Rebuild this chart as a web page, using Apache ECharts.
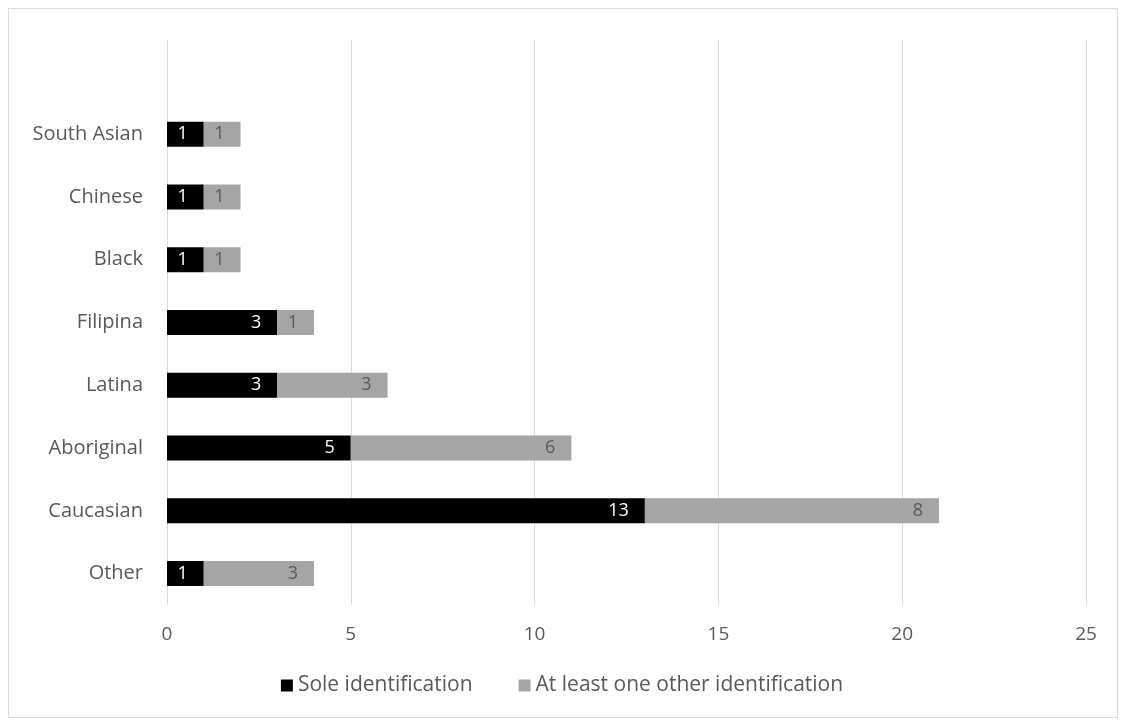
<!DOCTYPE html>
<html>
<head>
<meta charset="utf-8">
<script src="https://cdn.jsdelivr.net/npm/echarts@6/dist/echarts.min.js"></script>
<style>
  html, body { margin: 0; padding: 0; background: #fff; }
  #main { width: 1124px; height: 723px; }
</style>
</head>
<body>
<div id="main"></div>
<script>
// categories bottom -> top (Excel order), the last one is empty
var categories = ['Other', 'Caucasian', 'Aboriginal', 'Latina', 'Filipina', 'Black', 'Chinese', 'South Asian', ''];
var soleValues = [1, 13, 5, 3, 3, 1, 1, 1, null];
var otherValues = [3, 8, 6, 3, 1, 1, 1, 1, null];
var xTicks = [0, 5, 10, 15, 20, 25];

var font = '"Open Sans", "Noto Sans", sans-serif';
var chart = echarts.init(document.getElementById('main'));

var option = {
    animation: false,
    textStyle: { fontFamily: font },
    graphic: [{
        type: 'rect',
        shape: { x: 8.5, y: 8.5, width: 1109, height: 709 },
        style: { fill: 'none', stroke: '#d9d9d9', lineWidth: 1 }
    }],
    grid: { left: 167, right: 38, top: 40, bottom: 118 },
    legend: {
        bottom: 22,
        left: 'center',
        itemWidth: 12,
        itemHeight: 12,
        itemGap: 46,
        icon: 'rect',
        textStyle: { color: '#595959', fontSize: 21, fontFamily: font },
        data: ['Sole identification', 'At least one other identification']
    },
    xAxis: {
        type: 'value',
        min: xTicks[0],
        max: xTicks[xTicks.length - 1],
        interval: 5,
        axisLine: { show: false },
        axisTick: { show: false },
        axisLabel: { color: '#595959', fontSize: 19, margin: 20 },
        splitLine: { lineStyle: { color: '#d9d9d9', width: 1 } }
    },
    yAxis: {
        type: 'category',
        data: categories,
        axisLine: { show: false },
        axisTick: { show: false },
        axisLabel: { color: '#595959', fontSize: 20, margin: 24 }
    },
    series: [{
        name: 'Sole identification',
        type: 'bar',
        stack: 'total',
        barWidth: 25,
        itemStyle: { color: '#000000' },
        label: { show: true, position: 'insideRight', color: '#ffffff', fontSize: 18, distance: 16 },
        data: soleValues
    }, {
        name: 'At least one other identification',
        type: 'bar',
        stack: 'total',
        barWidth: 25,
        itemStyle: { color: '#a5a5a5' },
        label: { show: true, position: 'insideRight', color: '#595959', fontSize: 18, distance: 16 },
        data: otherValues
    }]
};

chart.setOption(option);
</script>
</body>
</html>
